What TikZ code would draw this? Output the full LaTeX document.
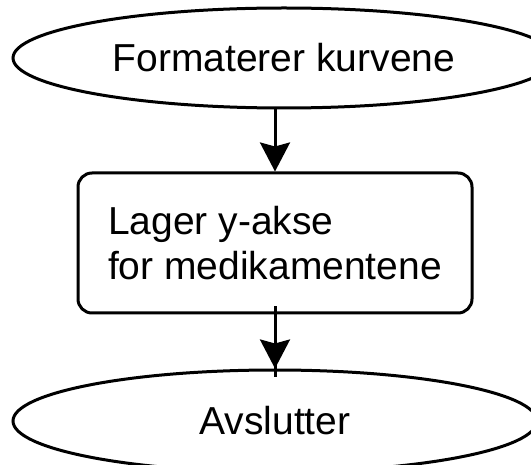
\documentclass[tikz,border=0pt]{standalone}
\usepackage{fontspec}
\setmainfont{Liberation Sans}
\usetikzlibrary{arrows.meta,shapes.geometric}
\tikzset{
	terminal/.style={draw, ellipse, line width=3pt, inner sep=0pt, font=\fontsize{39}{45}\selectfont},
	process/.style={draw, rectangle, rounded corners=14pt, line width=3pt, inner sep=0pt, minimum width=394pt, minimum height=140pt, align=left, font=\fontsize{39}{45}\selectfont},
	flow/.style={line width=3pt, -{Stealth[length=29pt, width=30pt, inset=4pt]}},
	plain/.style={line width=3pt}
}

\begin{document}
\begin{tikzpicture}[x=1pt, y=-1pt]
		%%%%% START %%%%%
		
		\useasboundingbox (0, 0) rectangle (531, 465);
		
		\node[terminal, minimum width=542pt, minimum height=100pt] (format) at (284, 58) {Formaterer kurvene};
		\node[process] (yaxis) at (275, 243) {Lager y-akse\\for medikamentene};
		\node[terminal, minimum width=524pt, minimum height=102pt] (stop) at (275, 421) {Avslutter};
		
		\draw[flow] (format.south -| yaxis.north) -- (yaxis.north);
		
		\draw[plain] ([yshift=8pt]yaxis.south) -- ([yshift=-9pt]stop.north);
		\draw[flow] (yaxis.south) -- (stop.north);
		
		%%%%% END %%%%%
	\end{tikzpicture}
\end{document}
